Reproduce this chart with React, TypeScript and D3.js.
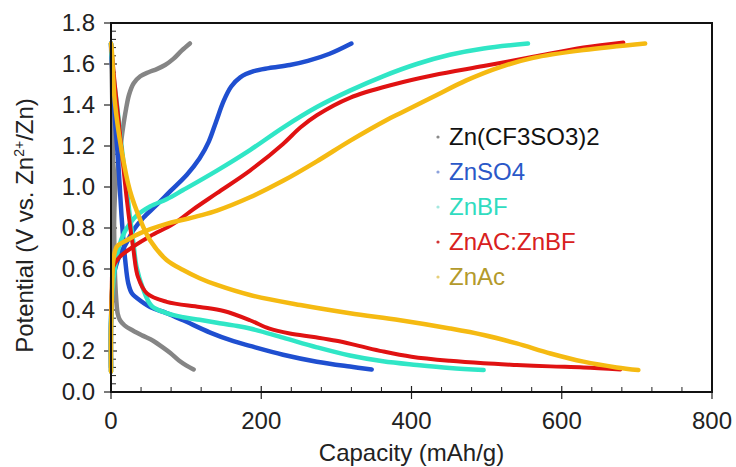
import React from "react";
import * as d3 from "d3";

type Pt = [number, number];

// Galvanostatic charge/discharge profiles: [capacity (mAh/g), potential (V)]
const otfCharge: Pt[] = [[0,0.10],[0,0.30],[1,0.42],[2,0.55],[3,0.70],[4,0.85],[6,1.0],[9,1.10],[12,1.18],[16,1.29],[20,1.38],[24,1.45],[30,1.505],[39,1.54],[50,1.56],[61,1.575],[72,1.595],[83,1.625],[94,1.665],[105,1.70]];
const otfDischarge: Pt[] = [[0,1.70],[1,1.55],[2,1.35],[3,1.10],[4,0.85],[5,0.60],[7,0.45],[9,0.38],[12,0.35],[18,0.325],[29,0.30],[42,0.275],[56,0.25],[68,0.22],[79,0.19],[90,0.155],[100,0.13],[110,0.11]];

const so4Charge: Pt[] = [[0,0.12],[0,0.35],[1,0.45],[3,0.56],[7,0.62],[12,0.67],[21,0.73],[30,0.79],[43,0.85],[60,0.91],[79,0.98],[101,1.06],[118,1.14],[130,1.22],[140,1.32],[150,1.42],[160,1.49],[172,1.535],[190,1.565],[210,1.58],[238,1.595],[262,1.615],[291,1.65],[320,1.70]];
const so4Discharge: Pt[] = [[0,1.70],[2,1.55],[5,1.34],[8,1.20],[10,1.10],[14,0.86],[17,0.72],[19,0.64],[23,0.53],[28,0.48],[34,0.46],[52,0.415],[74,0.385],[96,0.35],[132,0.29],[163,0.248],[185,0.225],[229,0.182],[274,0.148],[318,0.124],[347,0.11]];

const bfCharge: Pt[] = [[0,0.10],[0,0.35],[2,0.50],[5,0.60],[10,0.70],[18,0.78],[25,0.82],[34,0.86],[52,0.905],[74,0.94],[96,0.985],[141,1.08],[185,1.18],[229,1.29],[274,1.39],[318,1.47],[362,1.54],[407,1.60],[451,1.645],[496,1.676],[555,1.70]];
const bfDischarge: Pt[] = [[0,1.70],[3,1.55],[8,1.40],[14,1.20],[20,1.02],[25,0.86],[30,0.72],[34,0.61],[43,0.50],[54,0.42],[74,0.385],[96,0.365],[118,0.352],[141,0.338],[163,0.325],[185,0.31],[229,0.265],[274,0.218],[318,0.178],[362,0.15],[407,0.132],[451,0.117],[496,0.107]];

const mixCharge: Pt[] = [[0,0.10],[0,0.35],[1,0.50],[3,0.61],[12,0.66],[30,0.71],[52,0.76],[83,0.82],[109,0.89],[141,0.97],[185,1.08],[229,1.21],[252,1.29],[274,1.35],[318,1.435],[376,1.50],[429,1.545],[496,1.59],[562,1.635],[629,1.68],[682,1.705]];
const mixDischarge: Pt[] = [[0,1.70],[2,1.62],[5,1.50],[12,1.26],[21,0.94],[30,0.69],[36,0.56],[48,0.48],[74,0.44],[118,0.415],[150,0.395],[185,0.35],[210,0.31],[238,0.285],[270,0.268],[300,0.25],[330,0.225],[362,0.198],[400,0.172],[451,0.152],[496,0.14],[540,0.132],[585,0.125],[629,0.12],[678,0.11]];

const acCharge: Pt[] = [[0,0.10],[0,0.30],[1,0.45],[2,0.58],[3,0.64],[8,0.71],[21,0.74],[39,0.775],[74,0.82],[96,0.84],[118,0.86],[141,0.885],[185,0.95],[229,1.03],[274,1.125],[318,1.225],[367,1.327],[385,1.36],[429,1.44],[473,1.52],[518,1.585],[562,1.63],[629,1.668],[711,1.70]];
const acDischarge: Pt[] = [[0,1.70],[1,1.67],[5,1.42],[14,1.18],[25,0.985],[39,0.84],[52,0.74],[74,0.644],[96,0.595],[118,0.555],[141,0.522],[185,0.473],[252,0.424],[318,0.384],[385,0.35],[451,0.31],[496,0.278],[540,0.237],[585,0.188],[629,0.148],[673,0.12],[702,0.107]];

const seriesNames = ["Zn(CF3SO3)2", "ZnSO4", "ZnBF", "ZnAC:ZnBF", "ZnAc"];
const lineColors = ["#858585", "#1f4fd0", "#30e6c6", "#e01212", "#f5ba12"];
const labelColors = ["#111111", "#2a58c8", "#30dcc0", "#d82020", "#b39a2c"];
const dotColors = ["#8a8a8a", "#8da2dc", "#a4e8e0", "#d23434", "#e6cf7a"];
const curves: Pt[][][] = [
  [otfCharge, otfDischarge],
  [so4Charge, so4Discharge],
  [bfCharge, bfDischarge],
  [mixCharge, mixDischarge],
  [acCharge, acDischarge],
];

const xMajor = [0, 200, 400, 600, 800];
const yMajor = [0, 0.2, 0.4, 0.6, 0.8, 1.0, 1.2, 1.4, 1.6, 1.8];

const W = 736;
const H = 467;
const left = 111;
const right = 712;
const top = 23;
const bottom = 392;
const font = "'Liberation Sans', Arial, sans-serif";

export default function App() {
  const x = d3.scaleLinear().domain([0, 800]).range([left, right]);
  const y = d3.scaleLinear().domain([0, 1.8]).range([bottom, top]);
  const line = d3
    .line<Pt>()
    .x((d) => x(d[0]))
    .y((d) => y(d[1]))
    .curve(d3.curveCatmullRom.alpha(0.5));

  const xMinor = d3.range(0, 801, 40).filter((v) => v % 200 !== 0);
  const yMinor = d3.range(0, 46).map((i) => i * 0.04).filter((v) => Math.abs(v / 0.2 - Math.round(v / 0.2)) > 1e-6);

  return (
    <svg width={W} height={H} style={{ position: "absolute", left: 0, top: 0, background: "#fff" }} fontFamily={font}>
      <rect x={0} y={0} width={W} height={H} fill="#fff" />

      {/* minor ticks, inside the frame */}
      {xMinor.map((v) => (
        <line key={"xm" + v} x1={x(v)} x2={x(v)} y1={bottom} y2={bottom - 5} stroke="#222" strokeWidth={1} />
      ))}
      {yMinor.map((v) => (
        <line key={"ym" + v} x1={left} x2={left + 5} y1={y(v)} y2={y(v)} stroke="#222" strokeWidth={1} />
      ))}
      {/* major ticks cross the axis */}
      {xMajor.map((v) => (
        <line key={"xM" + v} x1={x(v)} x2={x(v)} y1={bottom - 6} y2={bottom + 7} stroke="#222" strokeWidth={1.2} />
      ))}
      {yMajor.map((v) => (
        <line key={"yM" + v} x1={left - 7} x2={left + 6} y1={y(v)} y2={y(v)} stroke="#222" strokeWidth={1.2} />
      ))}

      {/* series */}
      {curves.map((pair, i) =>
        pair.map((pts, j) => (
          <path
            key={i + "-" + j}
            d={line(pts) || ""}
            fill="none"
            stroke={lineColors[i]}
            strokeWidth={i === 3 ? 4 : 4.5}
            strokeLinecap="round"
            strokeLinejoin="round"
          />
        ))
      )}

      {/* frame */}
      <rect x={left} y={top} width={right - left} height={bottom - top} fill="none" stroke="#111" strokeWidth={2} />

      {/* tick labels */}
      {xMajor.map((v) => (
        <text key={"xl" + v} x={x(v)} y={429} textAnchor="middle" fontSize={24} fill="#222">
          {v}
        </text>
      ))}
      {yMajor.map((v) => (
        <text key={"yl" + v} x={95} y={y(v) + 8} textAnchor="end" fontSize={24} fill="#222">
          {v.toFixed(1)}
        </text>
      ))}

      {/* axis titles */}
      <text x={(left + right) / 2} y={461} textAnchor="middle" fontSize={24} fill="#222">
        Capacity (mAh/g)
      </text>
      <text transform={`translate(33, ${(top + bottom) / 2 + 18}) rotate(-90)`} textAnchor="middle" fontSize={24} fill="#222">
        Potential (V vs. Zn
        <tspan dy={-9} fontSize={14}>2+</tspan>
        <tspan dy={9}>/Zn)</tspan>
      </text>

      {/* legend */}
      {seriesNames.map((name, i) => (
        <g key={name} transform={`translate(0, ${137 + i * 35})`}>
          <circle cx={438} cy={0} r={1.6} fill={dotColors[i]} />
          <text x={449} y={8} fontSize={24} fill={labelColors[i]}>
            {name}
          </text>
        </g>
      ))}
    </svg>
  );
}
